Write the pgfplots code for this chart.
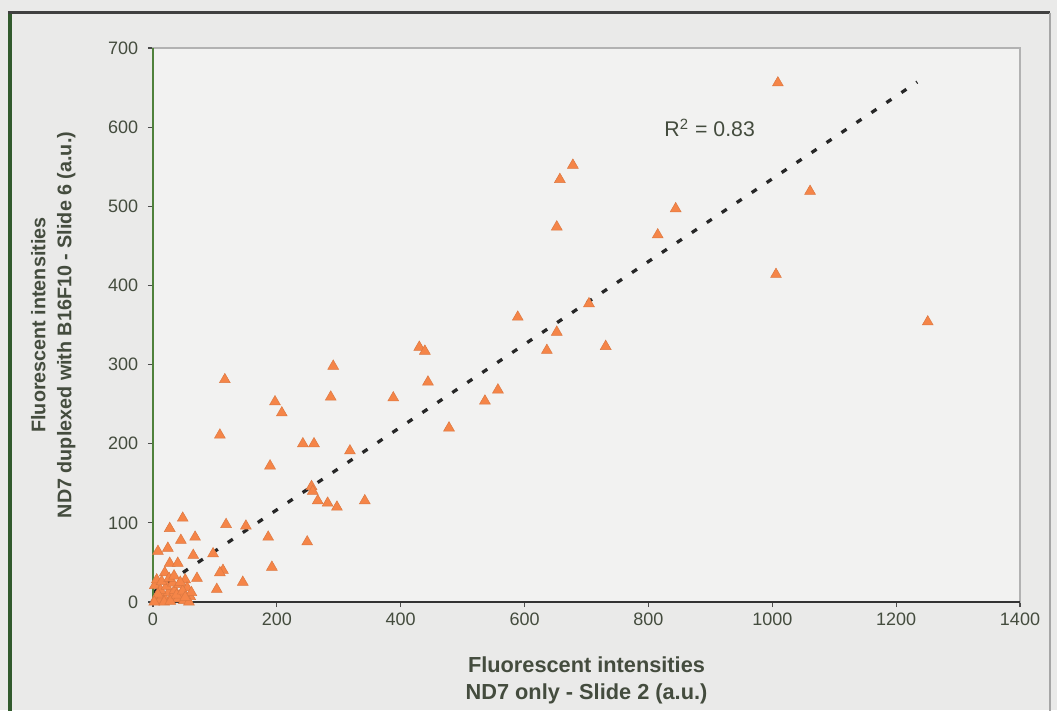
\documentclass[border=0pt]{standalone}
\usepackage{pgfplots}
\pgfplotsset{compat=1.18}
\usepackage{fontspec}
\setmainfont{Liberation Sans}
\definecolor{bg}{RGB}{234,234,233}
\definecolor{plotbg}{RGB}{242,242,241}
\definecolor{txt}{RGB}{68,76,62}
\definecolor{mk}{RGB}{245,133,72}
\definecolor{axgreen}{RGB}{80,130,60}
\definecolor{framegreen}{RGB}{50,90,45}

\begin{document}
\begin{tikzpicture}
% page background and outer frame
\fill[bg] (-61.2pt,-43.2pt) rectangle (361.6pt,240.8pt);
\draw[framegreen, line width=1.6pt] (-57.2pt,-45pt) -- (-57.2pt,235.6pt);
\draw[gray!50!black, line width=1.2pt] (-58pt,235.6pt) -- (358.8pt,235.6pt);
\draw[gray!70, line width=0.8pt] (358.8pt,235.6pt) -- (358.8pt,-45pt);
\begin{axis}[
    scale only axis,
    width=346.8pt, height=221.6pt,
    xmin=0, xmax=1400,
    ymin=0, ymax=700,
    xtick={0,200,...,1400},
    ytick={0,100,...,700},
    xtick pos=bottom, ytick pos=left,
    tick align=outside,
    major tick length=2pt,
    tick style={gray!60!black, line width=0.5pt},
    axis line style={gray!60, line width=0.6pt},
    axis background/.style={fill=plotbg},
    clip=false,
    /pgf/number format/assume math mode=true,
    /pgf/number format/set thousands separator={},
    ticklabel style={font=\fontsize{7.2}{8}\selectfont, text=txt},
    xticklabel style={yshift=1pt},
    yticklabel style={xshift=-0.4pt},
    xlabel={Fluorescent intensities\\ND7 only - Slide 2 (a.u.)},
    xlabel style={at={(axis description cs:0.5,-0.0975)}, anchor=north,
        align=center, inner sep=0pt, text=txt,
        font=\bfseries\fontsize{8.7}{10.8}\selectfont},
    ylabel={Fluorescent intensities\\ND7 duplexed with B16F10 - Slide 6 (a.u.)},
    ylabel style={at={(axis description cs:-0.0888,0.5)}, anchor=south,
        align=center, inner sep=0pt, text=txt,
        font=\bfseries\fontsize{7.9}{10.4}\selectfont},
]
% linear trend line
\addplot[no marks, black!85, line width=1.3pt, dash pattern=on 2.4pt off 4.8pt]
    coordinates {(0,12) (1234,657)};

\addplot[only marks, mark=triangle*, mark size=2.5pt,
    mark options={fill=mk, draw=mk!90!black, line width=0.2pt}]
    coordinates {
    (1009,656) (678,552) (657,534) (1061,519) (844,497) (652,474)
    (815,464) (1006,414) (1251,354) (589,360) (704,377) (652,341)
    (636,318) (731,323) (430,322) (439,317) (291,298) (444,278)
    (287,259) (388,258) (197,253) (208,239) (557,268) (536,254)
    (478,220) (116,281) (108,211) (242,200) (260,200) (318,191)
    (189,172) (256,146) (258,140) (266,128) (282,125) (297,120)
    (342,128) (150,96) (48,106) (27,93) (118,98) (186,82)
    (249,76) (45,78) (68,82) (8,64) (24,68) (65,59)
    (97,61) (27,49) (40,49) (113,40) (108,37) (192,44)
    (71,30) (52,28) (19,37) (145,25) (103,16) (3,21)
    (5,5) (10,2) (15,8) (20,3) (25,12) (30,6)
    (35,15) (40,4) (45,10) (50,2) (55,18) (60,7)
    (12,15) (22,20) (32,24) (42,22) (8,10) (18,0)
    (28,1) (38,9) (48,14) (58,0) (2,0) (6,28)
    (14,26) (26,30) (34,33) (44,25) (62,12) (52,6)
    };

\node[anchor=west, inner sep=0pt, text=txt, font=\fontsize{8.5}{10}\selectfont]
    at (axis cs:825,599) {R\textsuperscript{2} = 0.83};

\draw[axgreen, line width=0.8pt] (rel axis cs:0,0) -- (rel axis cs:0,1);
\draw[gray!40!black, line width=0.8pt] (rel axis cs:0,0) -- (rel axis cs:1,0);
\end{axis}
\pgfresetboundingbox
\path[use as bounding box] (-61.2pt,-43.2pt) rectangle (361.6pt,240.8pt);
\end{tikzpicture}
\end{document}
